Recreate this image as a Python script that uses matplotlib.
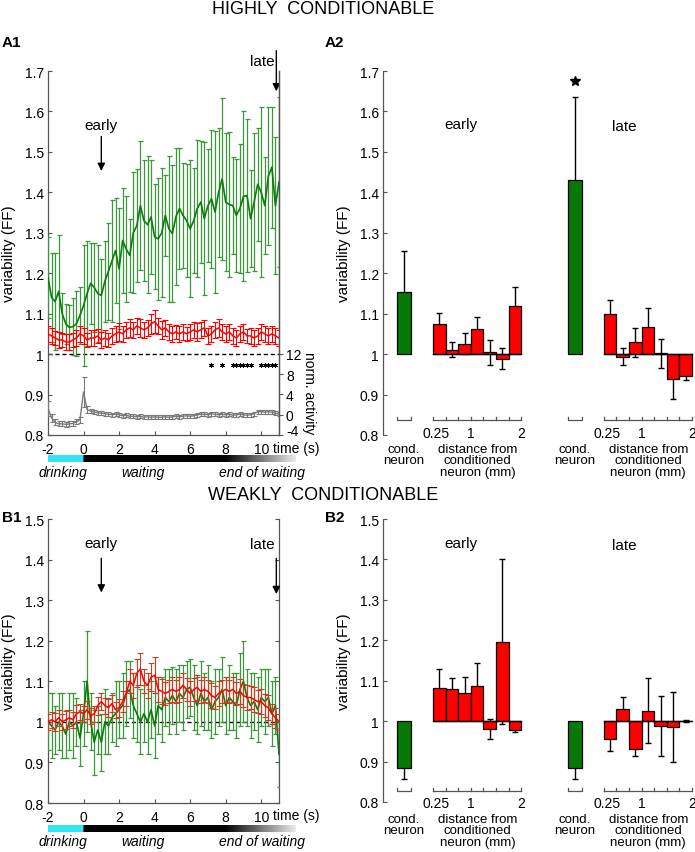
import numpy as np
import matplotlib
matplotlib.use('Agg')
import matplotlib.pyplot as plt

plt.rcParams['font.family'] = ['Liberation Sans', 'DejaVu Sans']

# ---------------- data ----------------
time = np.round(np.arange(-2, 11.01, 0.2), 1)

a1_green = [1.19, 1.14, 1.13, 1.155, 1.10, 1.075, 1.066, 1.068, 1.075, 1.096,
            1.12, 1.15, 1.175, 1.165, 1.15, 1.145, 1.18, 1.205, 1.23, 1.256,
            1.211, 1.281, 1.26, 1.244, 1.30, 1.318, 1.367, 1.33, 1.32, 1.339,
            1.29, 1.285, 1.30, 1.343, 1.31, 1.298, 1.34, 1.36, 1.343, 1.33,
            1.31, 1.33, 1.36, 1.376, 1.335, 1.367, 1.384, 1.351, 1.40, 1.433,
            1.376, 1.37, 1.367, 1.343, 1.36, 1.39, 1.392, 1.335, 1.376, 1.42,
            1.40, 1.367, 1.44, 1.462, 1.367, 1.425]
a1_green_se = [0.10, 0.11, 0.12, 0.14, 0.05, 0.05, 0.055, 0.07, 0.08, 0.07,
               0.15, 0.13, 0.10, 0.11, 0.12, 0.09, 0.10, 0.12, 0.15, 0.13,
               0.15, 0.13, 0.13, 0.09, 0.15, 0.14, 0.16, 0.15, 0.17, 0.14,
               0.13, 0.15, 0.16, 0.10, 0.18, 0.17, 0.17, 0.15, 0.13, 0.14,
               0.17, 0.13, 0.17, 0.15, 0.19, 0.14, 0.17, 0.20, 0.16, 0.20,
               0.17, 0.18, 0.12, 0.14, 0.16, 0.21, 0.19, 0.12, 0.17, 0.14,
               0.21, 0.12, 0.17, 0.15, 0.17, 0.21]
a1_red = [1.05, 1.045, 1.04, 1.035, 1.035, 1.03, 1.03, 1.035, 1.04, 1.05,
          1.045, 1.035, 1.04, 1.04, 1.045, 1.035, 1.04, 1.035, 1.045, 1.05,
          1.055, 1.05, 1.06, 1.065, 1.06, 1.07, 1.065, 1.06, 1.065, 1.075,
          1.08, 1.07, 1.06, 1.065, 1.055, 1.05, 1.055, 1.05, 1.055, 1.05,
          1.055, 1.06, 1.055, 1.06, 1.065, 1.045, 1.05, 1.06, 1.065, 1.055,
          1.05, 1.055, 1.045, 1.04, 1.05, 1.055, 1.045, 1.045, 1.04, 1.045,
          1.055, 1.05, 1.045, 1.05, 1.045, 1.04]
a1_red_se = [0.02, 0.02, 0.018, 0.02, 0.018, 0.02, 0.02, 0.018, 0.02, 0.02,
             0.02, 0.018, 0.02, 0.02, 0.018, 0.02, 0.02, 0.018, 0.02, 0.02,
             0.022, 0.02, 0.02, 0.022, 0.02, 0.02, 0.022, 0.02, 0.02, 0.025,
             0.028, 0.02, 0.022, 0.02, 0.02, 0.02, 0.018, 0.02, 0.02, 0.018,
             0.02, 0.02, 0.022, 0.02, 0.02, 0.02, 0.02, 0.02, 0.022, 0.02,
             0.02, 0.02, 0.02, 0.02, 0.02, 0.02, 0.018, 0.02, 0.02, 0.02,
             0.02, 0.02, 0.02, 0.02, 0.02, 0.02]
a1_activity = [1.2, -0.6, -1.5, -1.8, -1.8, -1.9, -1.8, -1.7, -1.4, -1.0,
               4.5, 1.0, 0.7, 0.5, 0.4, 0.3, 0.2, 0.1, 0.0, 0.1,
               0.0, -0.2, -0.1, -0.3, -0.3, -0.4, -0.3, -0.5, -0.4, -0.5,
               -0.4, -0.5, -0.5, -0.4, -0.5, -0.4, -0.3, -0.4, -0.3, -0.2,
               -0.3, -0.2, 0.0, 0.1, 0.1, 0.0, 0.2, 0.1, 0.0, 0.1,
               0.0, 0.1, -0.1, 0.0, 0.1, 0.0, -0.1, 0.0, 0.2, 0.6,
               0.6, 0.5, 0.6, 0.5, 0.3, 0.1]
a1_activity_se = [1.5, 0.8, 0.6, 0.5, 0.5, 0.5, 0.5, 0.5, 0.5, 0.6,
                  2.9, 0.7] + [0.4] * 54
signif_times = [7.2, 7.8, 8.4, 8.6, 8.8, 9.0, 9.2, 9.4, 10.0, 10.2, 10.4, 10.6, 10.8]

b1_green = [1.00, 0.99, 0.98, 1.00, 0.99, 0.97, 1.00, 0.99, 1.00, 0.96,
            1.02, 1.10, 1.00, 0.95, 0.98, 0.95, 1.00, 0.99, 1.01, 1.02,
            1.03, 1.04, 1.07, 1.08, 1.04, 1.02, 1.00, 1.02, 1.00, 1.03,
            0.99, 1.04, 1.03, 1.06, 1.05, 1.065, 1.05, 1.07, 1.06, 1.08,
            1.085, 1.06, 1.04, 1.07, 1.05, 1.06, 1.03, 1.05, 1.06, 1.08,
            1.04, 1.06, 1.05, 1.04, 1.08, 1.10, 1.06, 1.04, 1.05, 1.03,
            1.06, 1.05, 1.06, 1.02, 1.04, 0.92]
b1_green_se = [0.07, 0.08, 0.06, 0.07, 0.08, 0.06, 0.07, 0.08, 0.06, 0.07,
               0.08, 0.125, 0.07, 0.08, 0.06, 0.07, 0.08, 0.07, 0.06, 0.08,
               0.07, 0.08, 0.08, 0.07, 0.08, 0.07, 0.08, 0.07, 0.08, 0.07,
               0.08, 0.07, 0.08, 0.07, 0.08, 0.07, 0.08, 0.07, 0.08, 0.07,
               0.07, 0.08, 0.07, 0.08, 0.07, 0.08, 0.07, 0.08, 0.07, 0.08,
               0.07, 0.08, 0.07, 0.08, 0.09, 0.10, 0.07, 0.08, 0.07, 0.08,
               0.07, 0.08, 0.07, 0.08, 0.07, 0.08]
b1_red = [1.00, 1.005, 1.00, 1.01, 1.00, 1.005, 1.01, 1.005, 1.02, 1.025,
          1.02, 1.03, 1.015, 1.02, 1.04, 1.05, 1.04, 1.035, 1.045, 1.03,
          1.035, 1.05, 1.07, 1.10, 1.09, 1.12, 1.13, 1.10, 1.09, 1.11,
          1.115, 1.08, 1.075, 1.07, 1.075, 1.08, 1.075, 1.08, 1.09, 1.08,
          1.07, 1.08, 1.085, 1.075, 1.08, 1.075, 1.065, 1.06, 1.07, 1.075,
          1.08, 1.075, 1.08, 1.07, 1.075, 1.065, 1.06, 1.06, 1.055, 1.05,
          1.05, 1.04, 1.035, 1.02, 1.01, 1.00]
b1_red_se = [0.02, 0.02, 0.022, 0.02, 0.02, 0.022, 0.02, 0.02, 0.022, 0.02,
             0.02, 0.022, 0.02, 0.02, 0.022, 0.02, 0.02, 0.022, 0.02, 0.02,
             0.022, 0.025, 0.03, 0.03, 0.03, 0.035, 0.04, 0.03, 0.03, 0.035,
             0.045, 0.03, 0.03, 0.028, 0.028, 0.03, 0.028, 0.03, 0.03, 0.028,
             0.03, 0.028, 0.03, 0.028, 0.03, 0.028, 0.03, 0.028, 0.03, 0.028,
             0.03, 0.028, 0.03, 0.028, 0.03, 0.028, 0.03, 0.028, 0.03, 0.028,
             0.03, 0.028, 0.03, 0.025, 0.025, 0.02]

dist_edges = [0.25, 0.5, 0.75, 1.0, 1.25, 1.5, 1.75, 2.0]
dist_ticklabels = {0.25: '0.25', 1.0: '1', 2.0: '2'}

a2_early_cond, a2_early_cond_se = 1.154, 0.10
a2_late_cond, a2_late_cond_se = 1.430, 0.205
a2_early_red = [1.074, 1.011, 1.026, 1.061, 1.004, 0.989, 1.119]
a2_early_red_se = [0.027, 0.018, 0.025, 0.030, 0.030, 0.025, 0.046]
a2_late_red = [1.100, 0.994, 1.029, 1.066, 1.002, 0.938, 0.947]
a2_late_red_se = [0.035, 0.021, 0.036, 0.048, 0.036, 0.048, 0.011]

b2_early_cond, b2_early_cond_se = 0.883, 0.027
b2_late_cond, b2_late_cond_se = 0.883, 0.027
b2_early_red = [1.083, 1.080, 1.069, 1.088, 0.981, 1.196, 0.977]
b2_early_red_se = [0.046, 0.026, 0.039, 0.055, 0.025, 0.204, 0.004]
b2_late_red = [0.955, 1.031, 0.932, 1.026, 0.988, 0.986, 1.001]
b2_late_red_se = [0.029, 0.029, 0.018, 0.080, 0.075, 0.087, 0.002]

# ---------------- style ----------------
W, H = 695, 853
fig = plt.figure(figsize=(W / 100, H / 100), dpi=100)

GREEN_LINE = '#0b7d0b'
GREEN_ERR = '#3a983a'
RED = '#ff0000'
GRAY = '#7a7a7a'
SPINE = '#555555'
BAR_GREEN = '#067806'


def add_ax(l, t, r, b):
    return fig.add_axes([l / W, 1 - b / H, (r - l) / W, (b - t) / H])


def ftext(x, y, s, **kw):
    fig.text(x / W, 1 - y / H, s, **kw)


def style_ts_axis(ax, ylim, yticks):
    ax.set_xlim(-2, 11)
    ax.set_ylim(*ylim)
    ax.set_yticks(yticks)
    ax.set_yticklabels([('%g' % v) for v in yticks], fontsize=10)
    ax.set_xticks([-2, 0, 2, 4, 6, 8, 10])
    ax.set_xticklabels(['-2', '0', '2', '4', '6', '8', '10'], fontsize=10)
    ax.tick_params(direction='in', length=3, width=0.8, color=SPINE, pad=3,
                   right=True)
    ax.tick_params(axis='x', pad=5)
    ax.spines['top'].set_visible(False)
    for s in ['left', 'bottom', 'right']:
        ax.spines[s].set_color(SPINE)
        ax.spines[s].set_linewidth(0.9)
    ax.axhline(1.0, color='k', lw=1, ls=(0, (3, 2)), zorder=1)


def time_bar(ytop, ylab):
    bax = add_ax(48, ytop, 296, ytop + 7)
    n = 700
    ts = np.linspace(-2, 12, n)
    img = np.zeros((1, n, 3))
    for i, tt in enumerate(ts):
        if tt < 0:
            img[0, i] = (0.2, 0.9, 0.95)
        elif tt < 8:
            img[0, i] = (0, 0, 0)
        else:
            v = (tt - 8) / 4 * 0.92
            img[0, i] = (v, v, v)
    bax.imshow(img, aspect='auto', extent=[-2, 12, 0, 1])
    bax.axis('off')
    ftext(63, ylab, 'drinking', fontsize=10, style='italic', ha='center', va='center')
    ftext(143, ylab, 'waiting', fontsize=10, style='italic', ha='center', va='center')
    ftext(262, ylab, 'end of waiting', fontsize=10, style='italic', ha='center', va='center')


def bar_group(ax, off, cond, cond_se, red, red_se, ybr, ylab, ytxt):
    gx = off - 0.325
    ax.errorbar([gx], [cond], yerr=[cond_se], fmt='none', ecolor='k',
                elinewidth=1, capsize=2, capthick=1, zorder=2)
    ax.bar([gx], [cond - 1], bottom=1, width=0.28, color=BAR_GREEN,
           edgecolor='k', linewidth=0.9, zorder=3)
    edges = np.array(dist_edges) + off
    centers = (edges[:-1] + edges[1:]) / 2
    ax.errorbar(centers, red, yerr=red_se, fmt='none', ecolor='k',
                elinewidth=1, capsize=2, capthick=1, zorder=2)
    ax.bar(centers, np.array(red) - 1, bottom=1, width=0.25, color=RED,
           edgecolor='k', linewidth=0.9, zorder=3)
    ax.plot([edges[0], edges[-1]], [1, 1], color='k', lw=1, zorder=4)
    tk = 0.008
    ax.plot([gx - 0.14, gx - 0.14, gx + 0.14, gx + 0.14],
            [ybr + tk, ybr, ybr, ybr + tk], color=SPINE, lw=0.9, clip_on=False)
    ax.plot([edges[0], edges[-1]], [ybr, ybr], color=SPINE, lw=0.9, clip_on=False)
    for e, d in zip(edges, dist_edges):
        ax.plot([e, e], [ybr, ybr + tk], color=SPINE, lw=0.9, clip_on=False)
        if d in dist_ticklabels:
            ax.text(e + (0.06 if d == 0.25 else 0), ylab, dist_ticklabels[d],
                    ha='center', va='center', fontsize=10, clip_on=False)
    ax.text(gx, ytxt, 'cond.\nneuron', ha='center', va='top', fontsize=9.5,
            linespacing=0.95, clip_on=False)
    ax.text(off + 1.13, ytxt, 'distance from\nconditioned\nneuron (mm)',
            ha='center', va='top', fontsize=9.5, linespacing=0.95, clip_on=False)


def style_bar_axis(ax, ylim, yticks):
    ax.set_xlim(-0.742, 5.448)
    ax.set_ylim(*ylim)
    ax.set_yticks(yticks)
    ax.set_yticklabels([('%g' % v) for v in yticks], fontsize=10)
    ax.set_xticks([])
    for s in ['top', 'right', 'bottom']:
        ax.spines[s].set_visible(False)
    ax.spines['left'].set_color(SPINE)
    ax.spines['left'].set_linewidth(0.9)
    ax.tick_params(direction='in', length=3, width=0.8, color=SPINE, pad=3)


LATE_OFF = 3.39

# ---------------- titles ----------------
ftext(323, 9, 'HIGHLY  CONDITIONABLE', fontsize=13, ha='center', va='center')
ftext(323, 496, 'WEAKLY  CONDITIONABLE', fontsize=13, ha='center', va='center')
ftext(2, 43, 'A1', fontsize=11, weight='bold', va='center')
ftext(325, 43, 'A2', fontsize=11, weight='bold', va='center')
ftext(2, 518, 'B1', fontsize=11, weight='bold', va='center')
ftext(325, 518, 'B2', fontsize=11, weight='bold', va='center')

# ---------------- A1 ----------------
ax1 = add_ax(48, 72, 279, 436)
style_ts_axis(ax1, (0.8, 1.7), [0.8, 0.9, 1.0, 1.1, 1.2, 1.3, 1.4, 1.5, 1.6, 1.7])
ax1.errorbar(time, a1_green, yerr=a1_green_se, color=GREEN_LINE, ecolor=GREEN_ERR,
             lw=1.2, elinewidth=0.9, capsize=1.8, capthick=0.9, zorder=3)
ax1.errorbar(time, a1_red, yerr=a1_red_se, color=RED, ecolor=RED,
             lw=1.1, elinewidth=0.8, capsize=2.2, capthick=0.8, zorder=4)
ax1.plot(signif_times, [0.974] * len(signif_times), ls='none', marker=(6, 2, 0),
         ms=3.5, mew=0.7, color='k', zorder=5)
ax1.set_ylabel('variability (FF)', fontsize=11)
ax1.yaxis.set_label_coords(-0.139, 0.5)
ax1.annotate('', xy=(1, 1.446), xytext=(1, 1.545),
             arrowprops=dict(arrowstyle='-|>', color='k', lw=1, mutation_scale=11))
ax1.text(1, 1.567, 'early', ha='center', va='center', fontsize=11)
ax1.annotate('', xy=(10.85, 1.643), xytext=(10.85, 1.757), annotation_clip=False,
             arrowprops=dict(arrowstyle='-|>', color='k', lw=1, mutation_scale=11))
ax1.text(10.06, 1.725, 'late', ha='center', va='center', fontsize=11, clip_on=False)
ftext(273, 449, 'time (s)', fontsize=10, ha='left', va='center')

ax1b = ax1.twinx()
ax1b.set_ylim(-4, 67.9)
ax1b.set_yticks([-4, 0, 4, 8, 12])
ax1b.set_yticklabels(['-4', '0', '4', '8', '12'], fontsize=10)
ax1b.tick_params(direction='out', length=3, width=0.8, color=SPINE, pad=2)
for lbl in ax1b.get_yticklabels():
    if lbl.get_text() == '-4':
        lbl.set_va('baseline')
for s in ['top', 'left', 'bottom']:
    ax1b.spines[s].set_visible(False)
ax1b.spines['right'].set_color(SPINE)
ax1b.spines['right'].set_linewidth(0.9)
ax1b.errorbar(time, a1_activity, yerr=a1_activity_se, color=GRAY, ecolor=GRAY,
              lw=1.0, elinewidth=0.8, capsize=1.8, capthick=0.8)
ftext(309, 393, 'norm. activity', fontsize=10, rotation=270, ha='center', va='center')
time_bar(456, 473)

# ---------------- A2 ----------------
ax2 = add_ax(383, 72, 695, 436)
style_bar_axis(ax2, (0.8, 1.7), [0.8, 0.9, 1.0, 1.1, 1.2, 1.3, 1.4, 1.5, 1.6, 1.7])
bar_group(ax2, 0.0, a2_early_cond, a2_early_cond_se, a2_early_red, a2_early_red_se,
          0.836, 0.806, 0.781)
bar_group(ax2, LATE_OFF, a2_late_cond, a2_late_cond_se, a2_late_red, a2_late_red_se,
          0.836, 0.806, 0.781)
ax2.plot([LATE_OFF - 0.325], [1.676], marker='*', ms=7, color='k', ls='none')
ax2.text(0.806, 1.568, 'early', ha='center', va='center', fontsize=11)
ax2.text(4.04, 1.565, 'late', ha='center', va='center', fontsize=11)
ax2.set_ylabel('variability (FF)', fontsize=11)
ax2.yaxis.set_label_coords(-0.103, 0.5)

# ---------------- B1 ----------------
ax3 = add_ax(48, 520, 279, 804)
style_ts_axis(ax3, (0.8, 1.5), [0.8, 0.9, 1.0, 1.1, 1.2, 1.3, 1.4, 1.5])
ax3.errorbar(time, b1_green, yerr=b1_green_se, color=GREEN_LINE, ecolor=GREEN_ERR,
             lw=1.2, elinewidth=0.9, capsize=1.8, capthick=0.9, zorder=3)
ax3.errorbar(time, b1_red, yerr=b1_red_se, color=RED, ecolor='#d03a20',
             lw=1.1, elinewidth=0.8, capsize=2.2, capthick=0.8, zorder=4)
ax3.set_ylabel('variability (FF)', fontsize=11)
ax3.yaxis.set_label_coords(-0.139, 0.5)
ax3.annotate('', xy=(1, 1.312), xytext=(1, 1.41),
             arrowprops=dict(arrowstyle='-|>', color='k', lw=1, mutation_scale=11))
ax3.text(1, 1.441, 'early', ha='center', va='center', fontsize=11)
ax3.annotate('', xy=(10.85, 1.308), xytext=(10.85, 1.41), annotation_clip=False,
             arrowprops=dict(arrowstyle='-|>', color='k', lw=1, mutation_scale=11))
ax3.text(10.06, 1.438, 'late', ha='center', va='center', fontsize=11)
ftext(273, 816, 'time (s)', fontsize=10, ha='left', va='center')
time_bar(826, 842)

# ---------------- B2 ----------------
ax4 = add_ax(383, 520, 695, 803)
style_bar_axis(ax4, (0.8, 1.5), [0.8, 0.9, 1.0, 1.1, 1.2, 1.3, 1.4, 1.5])
bar_group(ax4, 0.0, b2_early_cond, b2_early_cond_se, b2_early_red, b2_early_red_se,
          0.827, 0.797, 0.774)
bar_group(ax4, LATE_OFF, b2_late_cond, b2_late_cond_se, b2_late_red, b2_late_red_se,
          0.827, 0.797, 0.774)
ax4.text(0.806, 1.44, 'early', ha='center', va='center', fontsize=11)
ax4.text(4.04, 1.435, 'late', ha='center', va='center', fontsize=11)
ax4.set_ylabel('variability (FF)', fontsize=11)
ax4.yaxis.set_label_coords(-0.103, 0.5)

fig.savefig('out.png', dpi=100)
